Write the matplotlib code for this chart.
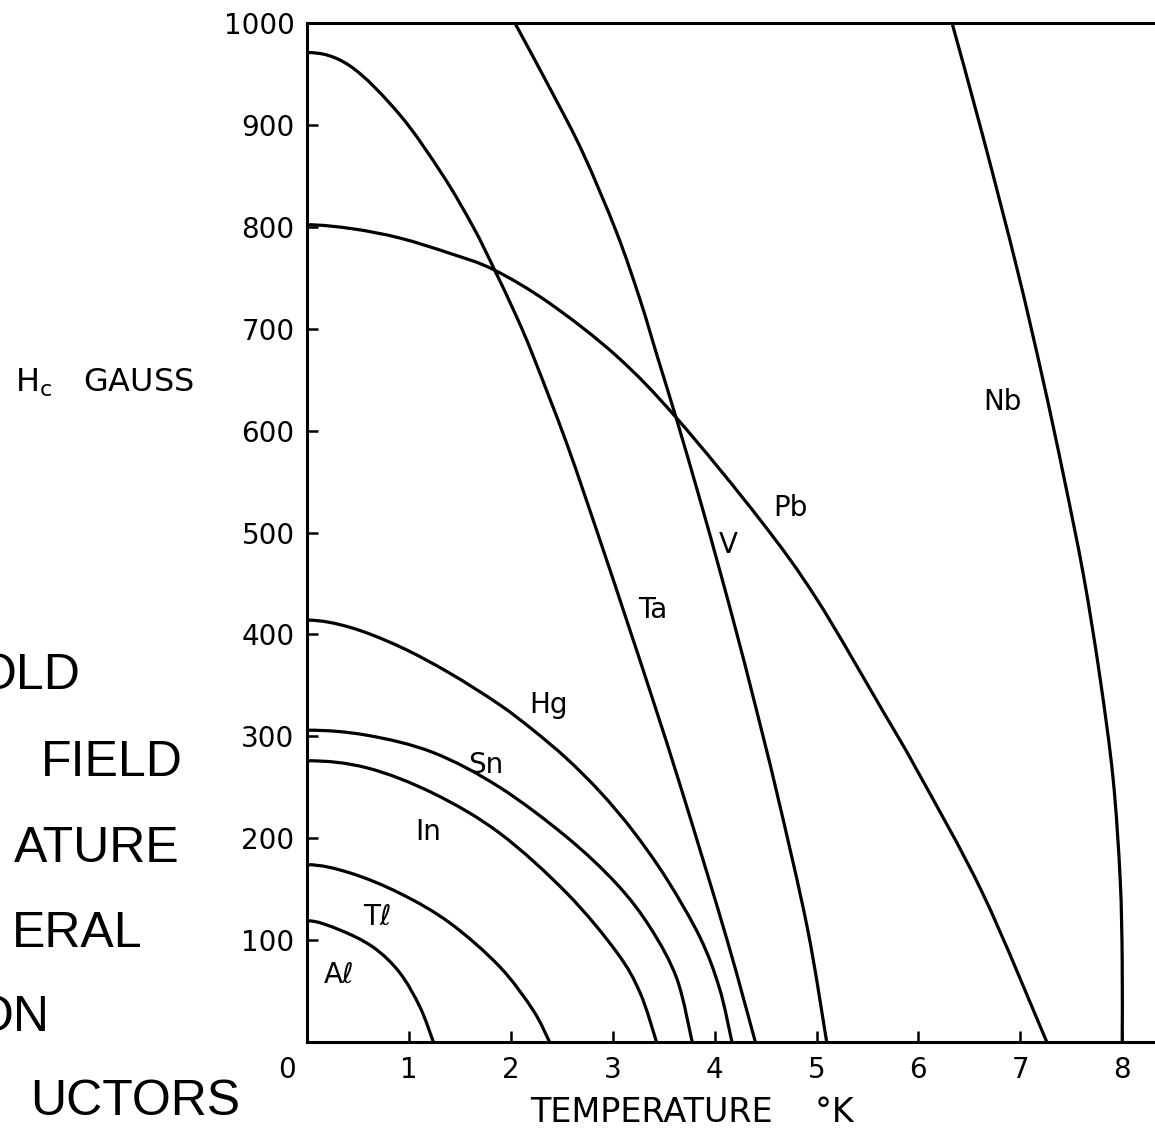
import numpy as np
import matplotlib
matplotlib.use("Agg")
import matplotlib.pyplot as plt
from matplotlib.path import Path
from matplotlib.patches import PathPatch
from matplotlib.transforms import ScaledTranslation

# ---- data (T in K, H in gauss) ----
al_T = [0.00, 0.32, 0.65, 0.91, 1.11, 1.24]
al_H = [119, 110, 93, 68, 34, 0]

tl_T = [0.00, 0.42, 0.91, 1.40, 1.89, 2.22, 2.38]
tl_H = [174, 166, 146, 117, 74, 31, 0]

in_T = [0.00, 0.59, 1.24, 1.89, 2.55, 3.04, 3.27, 3.43]
in_H = [276, 269, 244, 205, 146, 88, 48, 0]

sn_T = [0.00, 0.59, 1.24, 1.89, 2.55, 3.04, 3.37, 3.63, 3.78]
sn_H = [306, 301, 284, 250, 201, 155, 112, 62, 0]

hg_T = [0.00, 0.42, 0.91, 1.40, 1.89, 2.22, 2.55, 2.88, 3.20, 3.53, 3.86, 4.05, 4.17]
hg_H = [414, 407, 388, 362, 331, 306, 278, 245, 207, 160, 102, 52, 0]

ta_T = [0.00, 0.42, 0.91, 1.33, 1.63, 1.83, 2.06, 2.22, 2.55, 2.88, 3.14, 3.40, 3.69, 4.12, 4.40]
ta_H = [971, 958, 910, 851, 800, 760, 711, 673, 587, 491, 413, 334, 243, 101, 0]

v_T = [2.04, 2.41, 2.71, 3.04, 3.27, 3.44, 3.63, 3.86, 4.05, 4.22, 4.38, 4.61, 4.91, 5.10]
v_H = [1000, 931, 872, 794, 728, 672, 610, 531, 463, 400, 338, 245, 112, 0]

pb_T = [0.00, 0.45, 0.91, 1.40, 1.83, 2.38, 3.04, 3.63, 4.45, 5.00, 5.65, 5.99, 6.63, 7.26]
pb_H = [802, 798, 789, 774, 758, 725, 673, 612, 512, 435, 325, 266, 146, 0]

nb_T = [6.33, 6.63, 6.97, 7.22, 7.42, 7.62, 7.78, 7.91, 7.98, 8.00, 8.00]
nb_H = [1000, 890, 758, 651, 558, 458, 359, 259, 160, 80, 0]

curves = [(al_T, al_H), (tl_T, tl_H), (in_T, in_H), (sn_T, sn_H), (hg_T, hg_H),
          (ta_T, ta_H), (v_T, v_H), (pb_T, pb_H), (nb_T, nb_H)]

labels = ["A\u2113", "T\u2113", "In", "Sn", "Hg", "Ta", "V", "Pb", "Nb"]
label_T = [0.31, 0.69, 1.19, 1.75, 2.37, 3.39, 4.13, 4.74, 6.82]
label_H = [66, 123, 206, 272, 331, 424, 488, 524, 628]

x_ticks = [0, 1, 2, 3, 4, 5, 6, 7, 8]
x_ticklabels = ["0", "1", "2", "3", "4", "5", "6", "7", "8"]
y_ticks = [0, 100, 200, 300, 400, 500, 600, 700, 800, 900, 1000]
y_ticklabels = ["", "100", "200", "300", "400", "500", "600", "700", "800", "900", "1000"]

title_parts = ["OLD", "FIELD", "ATURE", "ERAL", "ON", "UCTORS"]

# ---- figure ----
W, H = 1155, 1128
fig = plt.figure(figsize=(W / 100, H / 100), dpi=100)
fig.patch.set_facecolor("white")

x0, x_end, y0, y_top = 307, W, 1042, 23
PX_T, PX_H = 101.9, 1.019
ax = fig.add_axes([x0 / W, (H - y0) / H, (x_end - x0) / W, (y0 - y_top) / H])
ax.set_xlim(0, (x_end - x0) / PX_T)
ax.set_ylim(0, 1000)


def smooth_path(T, Hc):
    """Cubic Bezier path passing through the read points (Catmull-Rom tangents)."""
    p = np.column_stack([np.asarray(T, float) * PX_T, np.asarray(Hc, float) * PX_H])
    ext = np.vstack([p[0], p, p[-1]])
    verts = [p[0]]
    codes = [Path.MOVETO]
    for i in range(len(p) - 1):
        p0, p1, p2, p3 = ext[i], ext[i + 1], ext[i + 2], ext[i + 3]
        c1 = p1 + (p2 - p0) / 6.0
        c2 = p2 - (p3 - p1) / 6.0
        if i == 0 and T[0] == 0:
            # curve leaves the H axis horizontally
            c1 = p1 + np.array([(p2[0] - p1[0]) / 3.0, 0.0])
        verts += [c1, c2, p2]
        codes += [Path.CURVE4] * 3
    verts = np.array(verts)
    verts[:, 0] /= PX_T
    verts[:, 1] /= PX_H
    return Path(verts, codes)


for T, Hc in curves:
    ax.add_patch(PathPatch(smooth_path(T, Hc), fill=False, edgecolor="black",
                           lw=2.3, capstyle="butt", joinstyle="round"))

for lab, t, h in zip(labels, label_T, label_H):
    ax.text(t, h, lab, fontsize=20, ha="center", va="center", color="black")

for s in ["left", "bottom", "top"]:
    ax.spines[s].set_linewidth(2.2)
    ax.spines[s].set_color("black")
ax.spines["right"].set_visible(False)

ax.set_xticks(x_ticks)
ax.set_xticklabels(x_ticklabels)
ax.set_yticks(y_ticks)
ax.set_yticklabels(y_ticklabels)
ax.tick_params(axis="both", direction="in", length=8, width=1.8, labelsize=20,
               color="black", labelcolor="black")
ax.tick_params(axis="x", pad=10)
ax.tick_params(axis="y", pad=9)

# shift the shared "0" label left of the corner
lbl0 = ax.get_xticklabels()[0]
lbl0.set_transform(lbl0.get_transform() + ScaledTranslation(-20 / 100, 0, fig.dpi_scale_trans))

# axis captions
fig.text(15 / W, 1 - 392 / H, r"H$_\mathregular{c}$   GAUSS", fontsize=23,
         ha="left", va="baseline", color="black")
fig.text(692 / W, 1 - 1122 / H, "TEMPERATURE    \u00b0K", fontsize=24,
         ha="center", va="baseline", color="black")

# cropped title on the left
rights = [80, 183, 180, 143, 50, 240]
bases = [689, 776, 862, 947, 1031, 1115]
for txt, r, b in zip(title_parts, rights, bases):
    fig.text(r / W, 1 - b / H, txt, fontsize=36, family="Liberation Sans",
             ha="right", va="baseline", color="black")

fig.savefig("out.png", dpi=100, facecolor="white")
